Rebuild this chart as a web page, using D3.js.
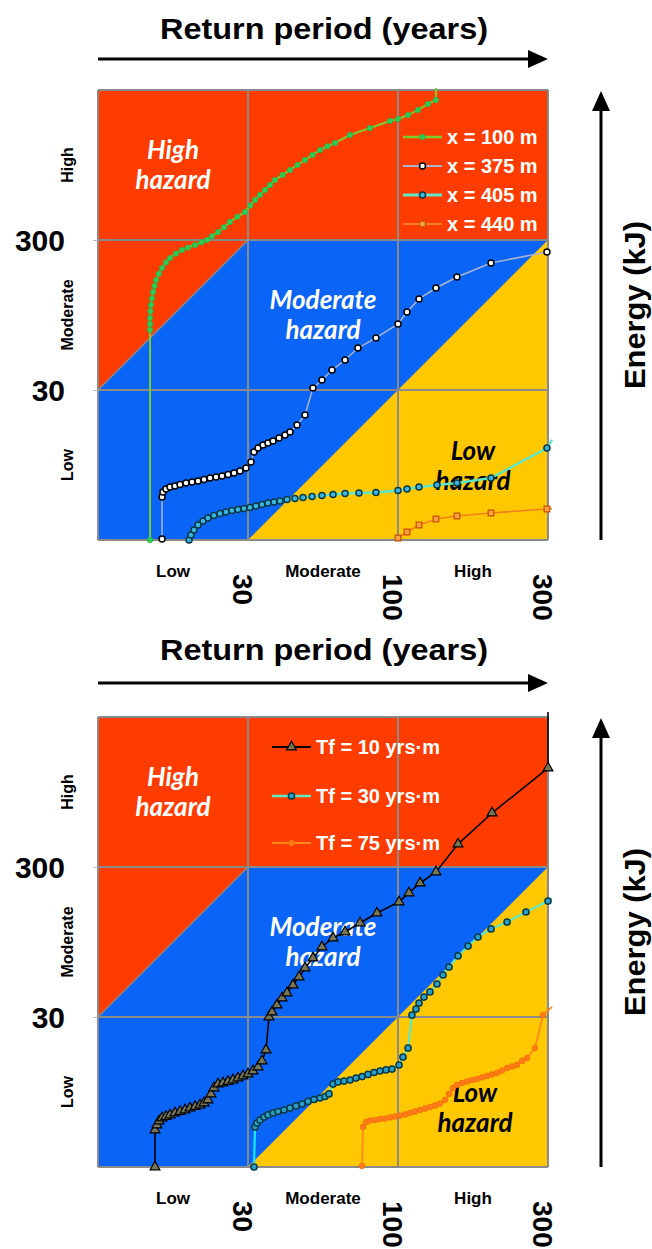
<!DOCTYPE html>
<html><head><meta charset="utf-8">
<script src="https://cdn.jsdelivr.net/npm/d3@7"></script>
<style>body{margin:0;background:#fff}svg{display:block}</style>
</head><body>
<script>
// ---------- data (hazard-class units: 0..3 on both axes) ----------
const xTickValues = [1, 2, 3];
const xTickLabels = ["30", "100", "300"];
const yTickValues = [1, 2];
const yTickLabels = ["30", "300"];
const classLabels = ["Low", "Moderate", "High"];
const classCenters = [0.5, 1.5, 2.5];
const xTitle = "Return period (years)";
const yTitle = "Energy (kJ)";

const zoneHigh = [[0,3],[3,3],[3,2],[1,2],[0,1]];
const zoneLow = [[1,0],[3,2],[3,0]];

// top chart series (x = distance)
const s100 = [[0.347,0],[0.347,1.40],[0.347,1.44],[0.347,1.48],[0.35,1.525],[0.353,1.567],[0.36,1.61],[0.367,1.653],[0.377,1.693],[0.387,1.733],[0.405,1.775],[0.427,1.813],[0.453,1.85],[0.48,1.88],[0.52,1.91],[0.56,1.933],[0.6,1.95],[0.647,1.967],[0.69,1.985],[0.727,2.0],[0.76,2.025],[0.8,2.053],[0.84,2.085],[0.88,2.12],[0.93,2.155],[0.98,2.187],[1.015,2.23],[1.047,2.267],[1.08,2.30],[1.113,2.333],[1.147,2.367],[1.18,2.4],[1.23,2.433],[1.28,2.467],[1.33,2.50],[1.38,2.533],[1.43,2.567],[1.48,2.6],[1.53,2.625],[1.58,2.647],[1.68,2.7],[1.813,2.747],[1.947,2.793],[2.0,2.807],[2.067,2.833],[2.133,2.867],[2.2,2.907],[2.253,2.933],[2.253,3.013]];
const s375 = [[0.427,0.007],[0.427,0.287],[0.433,0.32],[0.453,0.34],[0.48,0.353],[0.513,0.36],[0.547,0.37],[0.587,0.38],[0.627,0.387],[0.667,0.393],[0.707,0.403],[0.747,0.413],[0.787,0.42],[0.827,0.427],[0.867,0.437],[0.907,0.447],[0.947,0.46],[0.987,0.48],[1.02,0.52],[1.04,0.587],[1.067,0.613],[1.1,0.633],[1.133,0.647],[1.167,0.66],[1.207,0.68],[1.247,0.7],[1.28,0.72],[1.327,0.767],[1.38,0.833],[1.433,1.013],[1.493,1.067],[1.56,1.133],[1.647,1.2],[1.733,1.28],[1.853,1.347],[2.0,1.44],[2.06,1.52],[2.14,1.607],[2.253,1.68],[2.393,1.753],[2.62,1.847],[2.993,1.92]];
const s405 = [[0.607,0],[0.62,0.033],[0.64,0.067],[0.667,0.1],[0.7,0.127],[0.733,0.147],[0.773,0.163],[0.813,0.177],[0.853,0.187],[0.893,0.197],[0.933,0.203],[0.973,0.21],[1.013,0.217],[1.053,0.227],[1.093,0.237],[1.133,0.247],[1.173,0.253],[1.213,0.26],[1.26,0.27],[1.313,0.277],[1.367,0.283],[1.427,0.29],[1.493,0.297],[1.567,0.303],[1.647,0.31],[1.74,0.313],[1.853,0.317],[2.0,0.33],[2.06,0.34],[2.14,0.353],[2.26,0.367],[2.393,0.38],[2.62,0.413],[2.993,0.613],[3.027,0.667]];
const s440 = [[2.0,0.013],[2.06,0.053],[2.14,0.1],[2.253,0.14],[2.393,0.16],[2.62,0.18],[2.993,0.207],[3.027,0.21]];

// bottom chart series (Tf)
const tf10 = [[0.38,0],[0.38,0.247],[0.393,0.28],[0.407,0.307],[0.427,0.327],[0.453,0.337],[0.48,0.347],[0.513,0.36],[0.547,0.37],[0.58,0.38],[0.613,0.393],[0.647,0.403],[0.68,0.413],[0.707,0.427],[0.733,0.447],[0.753,0.487],[0.773,0.527],[0.8,0.553],[0.833,0.56],[0.867,0.57],[0.9,0.58],[0.933,0.593],[0.967,0.607],[1.0,0.62],[1.033,0.64],[1.067,0.667],[1.093,0.707],[1.12,0.78],[1.14,1.0],[1.16,1.033],[1.193,1.08],[1.227,1.127],[1.26,1.16],[1.3,1.213],[1.34,1.267],[1.38,1.327],[1.433,1.393],[1.493,1.467],[1.567,1.527],[1.647,1.567],[1.747,1.627],[1.86,1.693],[2.007,1.767],[2.073,1.827],[2.147,1.893],[2.253,1.967],[2.4,2.153],[2.627,2.36],[3.0,2.66],[3.0,3.033]];
const tf30 = [[1.04,0],[1.047,0.267],[1.06,0.293],[1.08,0.313],[1.107,0.333],[1.133,0.347],[1.167,0.36],[1.2,0.37],[1.24,0.38],[1.28,0.393],[1.32,0.407],[1.36,0.42],[1.4,0.437],[1.44,0.45],[1.48,0.46],[1.513,0.47],[1.54,0.487],[1.567,0.553],[1.6,0.567],[1.64,0.573],[1.68,0.58],[1.72,0.593],[1.76,0.603],[1.8,0.617],[1.84,0.63],[1.88,0.64],[1.92,0.647],[1.96,0.653],[2.007,0.68],[2.033,0.733],[2.067,0.793],[2.093,1.013],[2.12,1.053],[2.14,1.093],[2.173,1.133],[2.213,1.167],[2.26,1.22],[2.3,1.28],[2.34,1.333],[2.4,1.407],[2.467,1.473],[2.533,1.533],[2.62,1.587],[2.727,1.633],[2.853,1.7],[3.0,1.773],[3.027,1.79]];
const tf75 = [[1.76,0.007],[1.767,0.267],[1.787,0.3],[1.813,0.31],[1.847,0.313],[1.88,0.32],[1.913,0.323],[1.947,0.33],[1.98,0.337],[2.013,0.343],[2.047,0.35],[2.08,0.36],[2.113,0.37],[2.147,0.38],[2.18,0.39],[2.213,0.4],[2.247,0.41],[2.28,0.423],[2.313,0.447],[2.34,0.487],[2.367,0.527],[2.393,0.547],[2.427,0.56],[2.46,0.57],[2.493,0.58],[2.527,0.587],[2.56,0.597],[2.593,0.607],[2.627,0.617],[2.66,0.627],[2.693,0.643],[2.727,0.66],[2.76,0.67],[2.793,0.68],[2.827,0.707],[2.86,0.727],[2.913,0.793],[2.967,1.013],[3.027,1.067]];

const topNames = ["x = 100 m", "x = 375 m", "x = 405 m", "x = 440 m"];
const bottomNames = ["Tf = 10 yrs·m", "Tf = 30 yrs·m", "Tf = 75 yrs·m"];

// ---------- styles ----------
const FONT = "'Liberation Sans', Arial, Helvetica, sans-serif";
const HFONT = "Lato, 'Open Sans', 'DejaVu Sans', sans-serif";
const C_RED = "#ff3c00", C_BLUE = "#0a64f5", C_YEL = "#ffc800", C_GRID = "#8a8a8a";

const topSeries = [
  {name: topNames[0], data: s100, line: "#7ccc2e", lw: 2, shape: "circle", r: 2.8, fill: "#2ecc55", stroke: "#22aa44", sw: 0.6, tail: 1},
  {name: topNames[1], data: s375, line: "#aab4d0", lw: 1.5, shape: "circle", r: 3.0, fill: "#ffffff", stroke: "#000000", sw: 1.5, tail: 0},
  {name: topNames[2], data: s405, line: "#5ee6c6", lw: 2.4, shape: "circle", r: 3.0, fill: "#38b8e0", stroke: "#0c3848", sw: 1.5, tail: 1},
  {name: topNames[3], data: s440, line: "#f07f1e", lw: 1.6, shape: "square", r: 3, fill: "#f7a040", stroke: "#c25000", sw: 1.2, tail: 1}
];
const bottomSeries = [
  {name: bottomNames[0], data: tf10, line: "#000000", lw: 1.6, shape: "triangle", r: 3.3, fill: "#777755", stroke: "#000000", sw: 1.2, tail: 1},
  {name: bottomNames[1], data: tf30, line: "#5ee8c0", lw: 2.2, shape: "circle", r: 3.1, fill: "#2aa0c8", stroke: "#0a3a48", sw: 1.5, tail: 1, firstLine: "#19e6ff"},
  {name: bottomNames[2], data: tf75, line: "#ff8a1a", lw: 1.8, shape: "circle", r: 2.9, fill: "#ff7a18", stroke: "#f26a00", sw: 0.6, tail: 1}
];

const svg = d3.select("body").append("svg").attr("width", 652).attr("height", 1249)
  .attr("font-family", FONT);

function arrowRight(x0, x1, y) {
  svg.append("line").attr("x1", x0).attr("x2", x1 - 16).attr("y1", y).attr("y2", y)
    .attr("stroke", "#000").attr("stroke-width", 3);
  svg.append("path").attr("d", `M${x1},${y} L${x1-20},${y-9} L${x1-20},${y+9} Z`).attr("fill", "#000");
}
function arrowUp(x, y0, y1) {
  svg.append("line").attr("x1", x).attr("x2", x).attr("y1", y0).attr("y2", y1 + 16)
    .attr("stroke", "#000").attr("stroke-width", 3);
  svg.append("path").attr("d", `M${x},${y1} L${x-9},${y1+20} L${x+9},${y1+20} Z`).attr("fill", "#000");
}

function drawChart(cfg) {
  const x = d3.scaleLinear().domain([0, 3]).range([98, 548]);
  const y = d3.scaleLinear().domain([0, 3]).range([cfg.bottom, cfg.top]);
  const g = svg.append("g");
  const poly = d3.line().x(d => x(d[0])).y(d => y(d[1]));

  // background zones
  g.append("rect").attr("x", x(0)).attr("y", y(3)).attr("width", x(3) - x(0)).attr("height", y(0) - y(3)).attr("fill", C_BLUE);
  g.append("path").attr("d", poly(zoneHigh) + "Z").attr("fill", C_RED);
  g.append("path").attr("d", poly(zoneLow) + "Z").attr("fill", C_YEL);
  g.append("line").attr("x1", x(0)).attr("y1", y(1)).attr("x2", x(1)).attr("y2", y(2))
    .attr("stroke", C_GRID).attr("stroke-width", 1.5);
  g.append("line").attr("x1", x(1)).attr("y1", y(0)).attr("x2", x(3)).attr("y2", y(2))
    .attr("stroke", "#c9a83a").attr("stroke-width", 0.8).attr("opacity", 0.6);

  // grid
  [0, 1, 2, 3].forEach(v => {
    g.append("line").attr("x1", x(v)).attr("x2", x(v)).attr("y1", y(0)).attr("y2", y(3)).attr("stroke", C_GRID).attr("stroke-width", 2);
    g.append("line").attr("x1", x(0)).attr("x2", x(3)).attr("y1", y(v)).attr("y2", y(v)).attr("stroke", C_GRID).attr("stroke-width", 2);
  });

  // hazard labels
  const hz = [
    {t: ["High", "hazard"], cx: x(0.5), cy: y(2.5), c: "#fff"},
    {t: ["Moderate", "hazard"], cx: x(1.5), cy: y(1.5), c: "#fff"},
    {t: ["Low", "hazard"], cx: cfg.lowX, cy: cfg.lowY, c: "#000"}
  ];
  hz.forEach(h => {
    h.t.forEach((s, i) => {
      g.append("text").attr("x", h.cx).attr("y", h.cy - 6 + i * 30).attr("text-anchor", "middle")
        .attr("font-family", HFONT).attr("font-weight", "bold").attr("font-style", "italic")
        .attr("font-size", 26).attr("fill", h.c).text(s);
    });
  });

  // x axis (numbers rotated) via d3.axisBottom
  const xa = g.append("g").attr("transform", `translate(0,${y(0) + 34})`)
    .call(d3.axisBottom(x).tickValues(xTickValues).tickFormat((d, i) => xTickLabels[i]).tickSize(0));
  xa.select(".domain").remove();
  xa.selectAll(".tick text").attr("transform", "translate(-5,0) rotate(90)").attr("x", 0).attr("y", 0)
    .attr("dy", "0.36em").attr("text-anchor", "start").attr("font-family", FONT)
    .attr("font-size", 28).attr("font-weight", "bold").attr("fill", "#000");
  classLabels.forEach((s, i) => {
    g.append("text").attr("x", x(classCenters[i])).attr("y", y(0) + 37).attr("text-anchor", "middle")
      .attr("font-size", 17).attr("font-weight", "bold").text(s);
  });

  // y axis via d3.axisLeft
  const ya = g.append("g").attr("transform", `translate(${x(0)},0)`)
    .call(d3.axisLeft(y).tickValues(yTickValues).tickFormat((d, i) => yTickLabels[i]).tickSize(5));
  ya.select(".domain").remove();
  ya.selectAll(".tick line").attr("stroke", "#bbb");
  ya.selectAll(".tick text").attr("x", -33).attr("dy", "0.36em").attr("font-family", FONT)
    .attr("font-size", 30).attr("font-weight", "bold").attr("fill", "#000");
  classLabels.forEach((s, i) => {
    g.append("text").attr("transform", `translate(73,${y(classCenters[i])}) rotate(-90)`)
      .attr("text-anchor", "middle").attr("font-size", 16).attr("font-weight", "bold").text(s);
  });

  // series
  const line = d3.line().x(d => x(d[0])).y(d => y(d[1]));
  cfg.series.forEach(s => {
    if (s.firstLine) {
      g.append("path").attr("d", line(s.data.slice(1))).attr("fill", "none").attr("stroke", s.line).attr("stroke-width", s.lw);
      g.append("path").attr("d", line(s.data.slice(0, 2))).attr("fill", "none").attr("stroke", s.firstLine).attr("stroke-width", s.lw);
    } else {
      g.append("path").attr("d", line(s.data)).attr("fill", "none").attr("stroke", s.line).attr("stroke-width", s.lw);
    }
    const pts = s.data.slice(0, s.data.length - s.tail);
    drawMarkers(g, pts.map(d => [x(d[0]), y(d[1])]), s);
  });

  // legend
  cfg.series.forEach((s, i) => {
    const ly = cfg.legY[i];
    g.append("line").attr("x1", cfg.legX).attr("x2", cfg.legX + 39).attr("y1", ly).attr("y2", ly)
      .attr("stroke", s.line).attr("stroke-width", s.lw + 0.4);
    drawMarkers(g, [[cfg.legX + 19.5, ly]], s);
    g.append("text").attr("x", cfg.legX + 44).attr("y", ly + 7).attr("fill", "#fff")
      .attr("font-size", 20).attr("font-weight", "bold").text(s.name);
  });

  // right energy arrow and axis titles
  arrowUp(601, y(0), y(3) + 1);
  svg.append("text").attr("transform", `translate(645,${cfg.eY}) rotate(-90)`).attr("text-anchor", "middle")
    .attr("font-size", 30).attr("font-weight", "bold").attr("textLength", 168).attr("lengthAdjust", "spacingAndGlyphs").text(yTitle);
  svg.append("text").attr("x", 324).attr("y", cfg.titleY).attr("text-anchor", "middle")
    .attr("font-size", 30).attr("font-weight", "bold").attr("textLength", 328).attr("lengthAdjust", "spacingAndGlyphs").text(xTitle);
  arrowRight(98, 548, cfg.arrowY);
}

function drawMarkers(g, pts, s) {
  if (s.shape === "circle") {
    g.selectAll(null).data(pts).join("circle").attr("cx", d => d[0]).attr("cy", d => d[1]).attr("r", s.r)
      .attr("fill", s.fill).attr("stroke", s.stroke).attr("stroke-width", s.sw);
  } else {
    const type = s.shape === "square" ? d3.symbolSquare : d3.symbolTriangle;
    const size = s.shape === "square" ? 32 : 42;
    g.selectAll(null).data(pts).join("path").attr("transform", d => `translate(${d[0]},${d[1]})`)
      .attr("d", d3.symbol().type(type).size(size)).attr("fill", s.fill).attr("stroke", s.stroke).attr("stroke-width", s.sw);
  }
}

drawChart({top: 90, bottom: 540, series: topSeries, legX: 403, legY: [137, 166, 195, 224],
  lowX: 473, lowY: 466, titleY: 39, arrowY: 59, eY: 305});
drawChart({top: 717, bottom: 1167, series: bottomSeries, legX: 272, legY: [747, 796, 843],
  lowX: 475, lowY: 1108, titleY: 660, arrowY: 683, eY: 932});
</script>
</body></html>
